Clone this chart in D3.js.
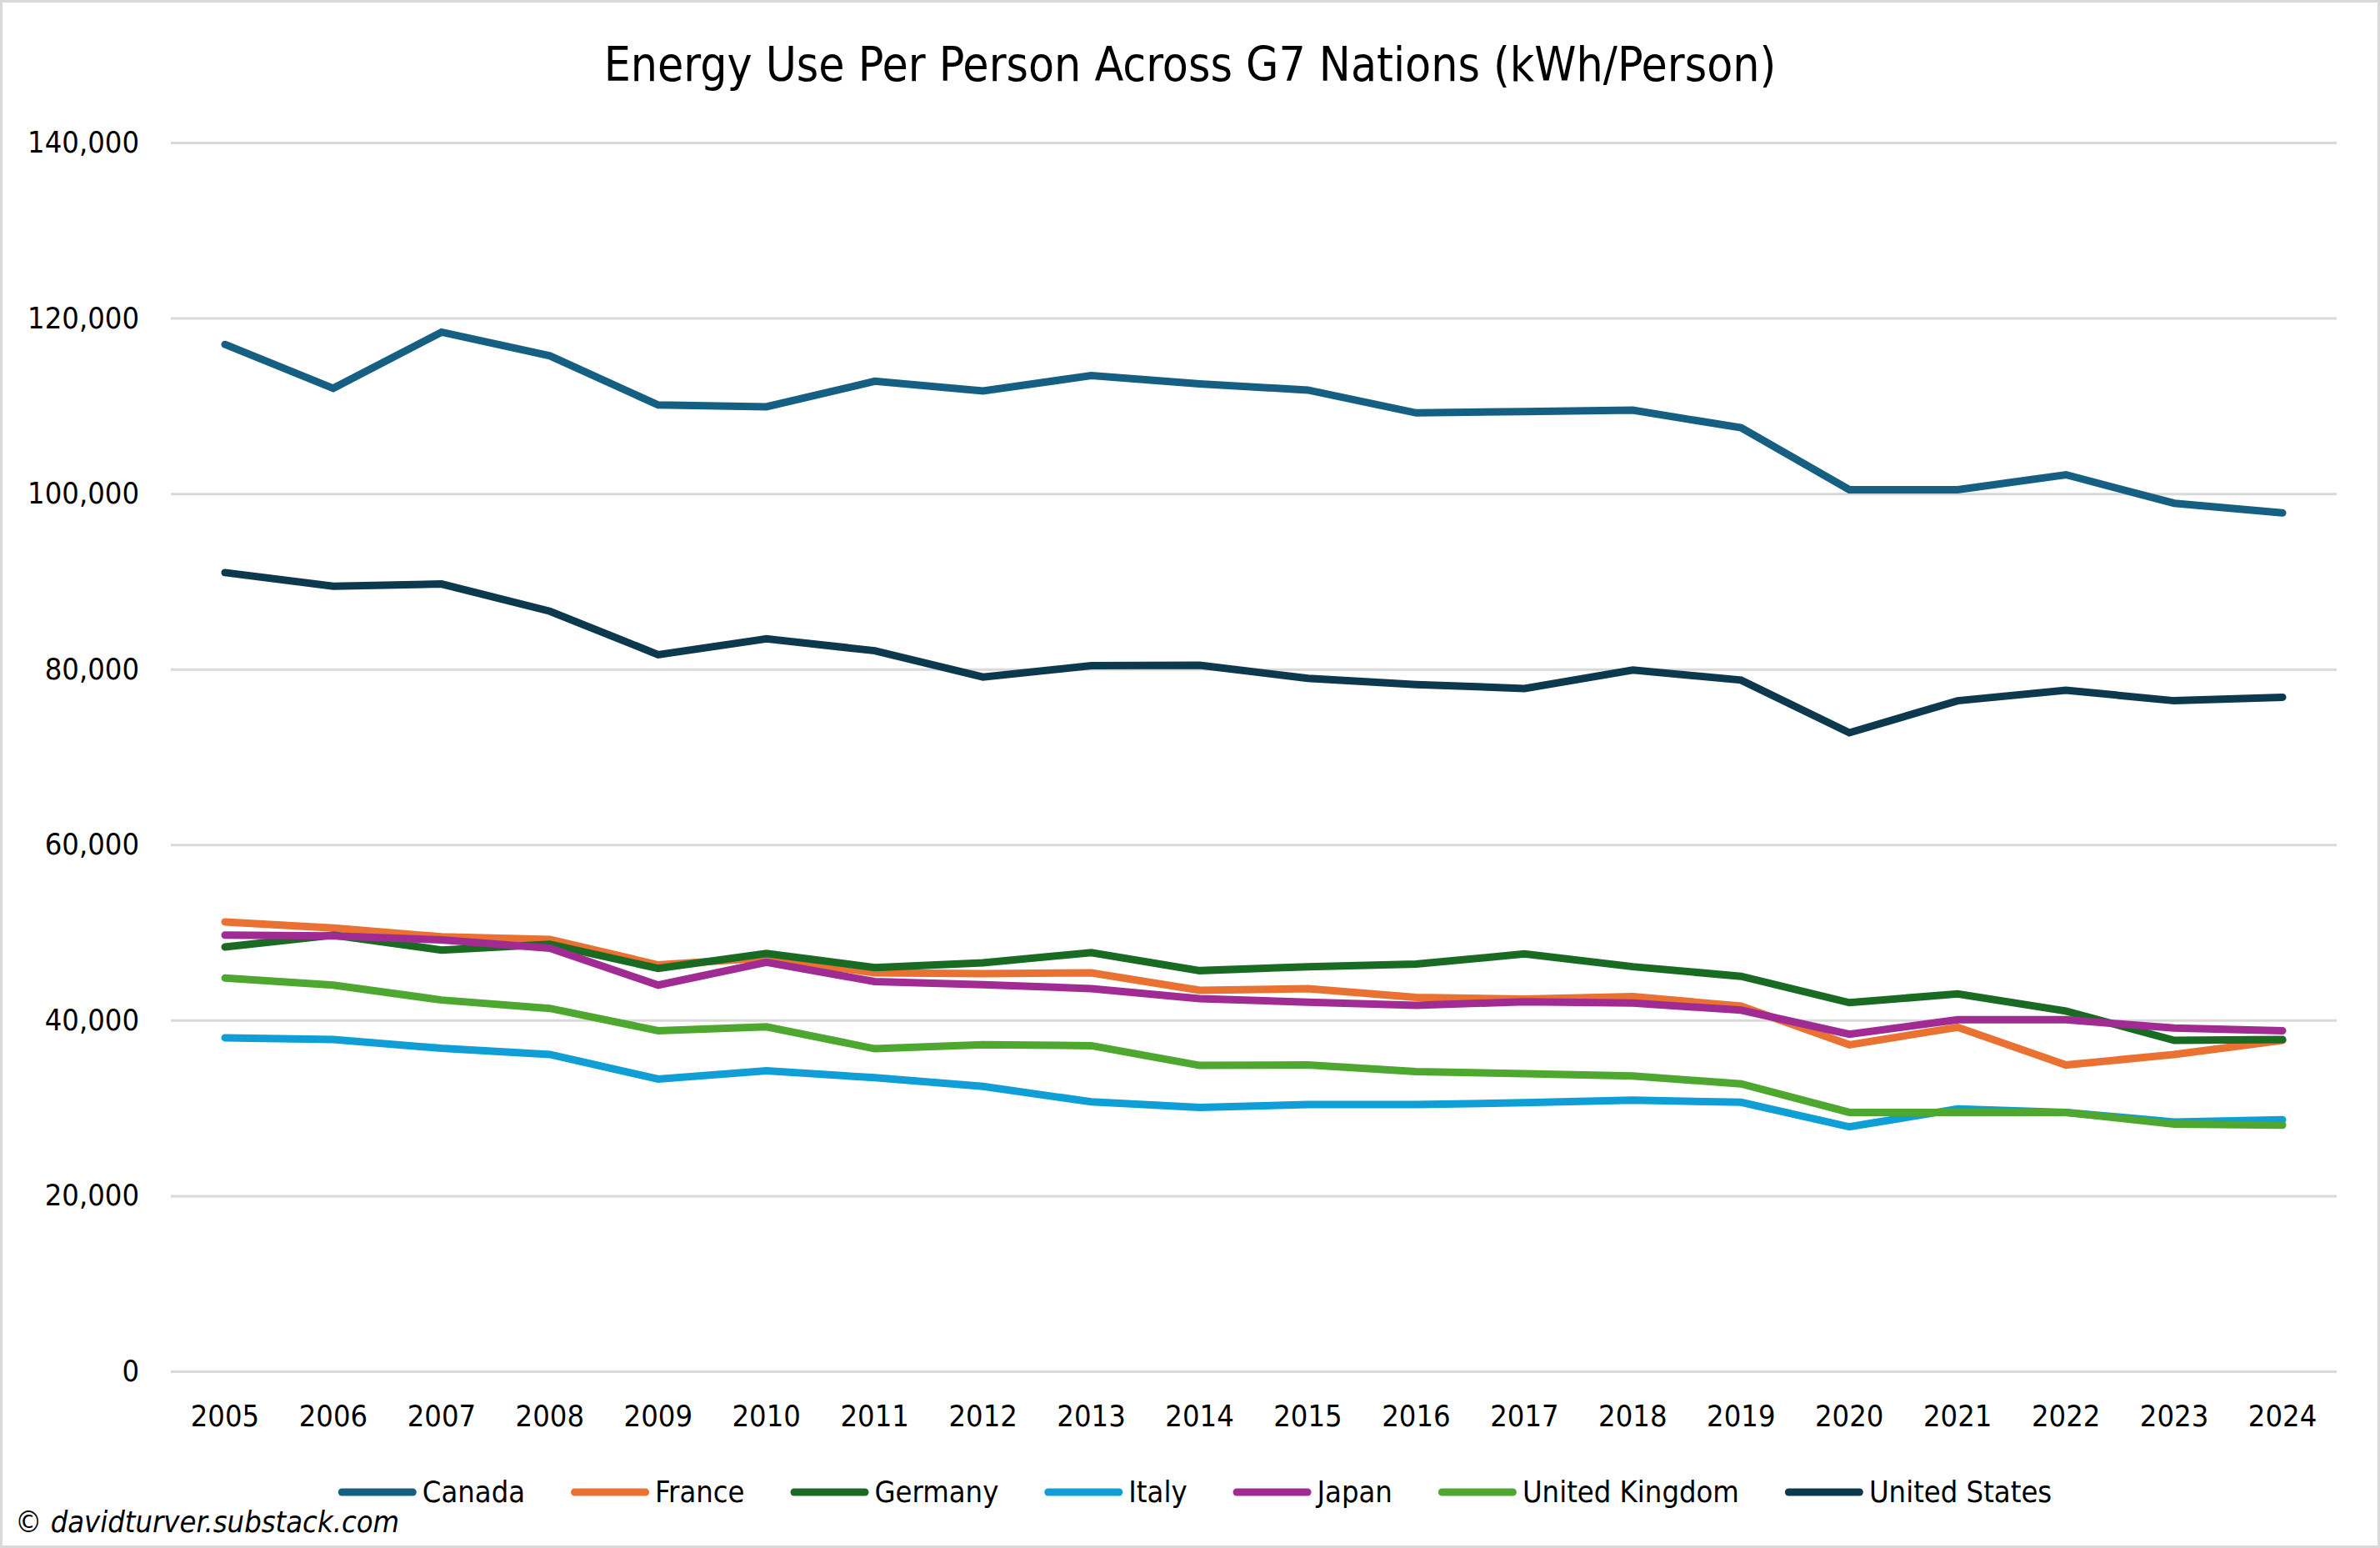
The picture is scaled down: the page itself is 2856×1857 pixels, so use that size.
<!DOCTYPE html>
<html>
<head>
<meta charset="utf-8">
<script src="https://cdn.jsdelivr.net/npm/d3@7"></script>
<style>
  html, body { margin: 0; padding: 0; background: #fff; }
  svg { display: block; }
  text { font-family: "Liberation Sans Narrow", "DejaVu Sans Condensed", "Arial Narrow", sans-serif; fill: #000; }
</style>
</head>
<body>
<svg id="chart" width="2856" height="1857"></svg>
<script>
const years = ["2005","2006","2007","2008","2009","2010","2011","2012","2013","2014","2015","2016","2017","2018","2019","2020","2021","2022","2023","2024"];
const yTicks = [0, 20000, 40000, 60000, 80000, 100000, 120000, 140000];

const canada  = [117000,112000,118400,115700,110100,109900,112800,111700,113450,112500,111800,109200,109350,109500,107500,100450,100450,102150,98900,97800];
const france  = [51200,50500,49500,49200,46300,47100,45400,45300,45400,43400,43600,42600,42400,42700,41600,37200,39200,34900,36100,37700];
const germany = [48350,49700,48000,48650,45900,47600,46000,46550,47700,45650,46100,46400,47550,46100,45000,42000,43000,41050,37700,37800];
const italy   = [38000,37800,36800,36100,33300,34250,33450,32450,30700,30050,30400,30400,30600,30900,30650,27850,29900,29500,28400,28650];
const japan   = [49700,49600,49150,48200,44000,46600,44400,44050,43600,42450,42050,41700,42100,41950,41150,38400,40050,40050,39100,38800];
const uk      = [44800,44000,42300,41350,38800,39250,36750,37200,37100,34850,34900,34150,33900,33650,32750,29500,29500,29500,28150,28050];
const us      = [91000,89450,89700,86600,81650,83450,82100,79100,80400,80450,78950,78250,77800,79900,78750,72750,76400,77600,76400,76800];

const seriesNames  = ["Canada","France","Germany","Italy","Japan","United Kingdom","United States"];
const seriesValues = [canada, france, germany, italy, japan, uk, us];
const seriesColors = ["#156082","#E97132","#196B24","#0F9ED5","#A02B93","#4EA72E","#0D394E"];

const title = "Energy Use Per Person Across G7 Nations (kWh/Person)";
const footer = "© davidturver.substack.com";

const W = 2856, H = 1857;
const plot = { left: 205, right: 2804, top: 171, bottom: 1645 };
const FONT = '"Liberation Sans Narrow", "DejaVu Sans Condensed", sans-serif';

const svg = d3.select("#chart");

// border
svg.append("rect")
  .attr("x", 1.5).attr("y", 1.5).attr("width", W - 3).attr("height", H - 3)
  .attr("fill", "#fff").attr("stroke", "#d9d9d9").attr("stroke-width", 3);

const x = d3.scaleBand().domain(years).range([plot.left, plot.right]).padding(0);
const y = d3.scaleLinear().domain([0, 140000]).range([plot.bottom, plot.top]);

// gridlines + y labels via axis
const yAxis = d3.axisLeft(y).tickValues(yTicks).tickFormat(d3.format(","))
  .tickSize(-(plot.right - plot.left)).tickPadding(38);
const gy = svg.append("g").attr("transform", `translate(${plot.left},0)`).call(yAxis);
gy.select(".domain").remove();
gy.selectAll(".tick line").attr("stroke", "#d9d9d9").attr("stroke-width", 3);
gy.selectAll(".tick text").attr("font-size", 36).attr("fill", "#000").style("font-family", FONT);

// x labels via axis
const xAxis = d3.axisBottom(x).tickSize(0).tickPadding(40);
const gx = svg.append("g").attr("transform", `translate(0,${plot.bottom})`).call(xAxis);
gx.select(".domain").remove();
gx.selectAll(".tick text").attr("font-size", 36).attr("fill", "#000").style("font-family", FONT);

// lines
const line = d3.line()
  .x((d, i) => x(years[i]) + x.bandwidth() / 2)
  .y(d => y(d));

seriesValues.forEach((vals, k) => {
  svg.append("path")
    .datum(vals)
    .attr("d", line)
    .attr("fill", "none")
    .attr("stroke", seriesColors[k])
    .attr("stroke-width", 9)
    .attr("stroke-linecap", "round")
    .attr("stroke-linejoin", "miter")
    .attr("stroke-miterlimit", 10);
});

// title
svg.append("text")
  .attr("x", W / 2).attr("y", 97)
  .attr("text-anchor", "middle")
  .attr("font-size", 56.5)
  .text(title);

// legend
const legendY = 1790;
const swatch = 94, swGap = 7, itemGap = 55;
const lg = svg.append("g");
let cx = 0;
seriesNames.forEach((name, k) => {
  const g = lg.append("g");
  g.append("line")
    .attr("x1", cx + 4.5).attr("x2", cx + swatch - 4.5)
    .attr("y1", legendY).attr("y2", legendY)
    .attr("stroke", seriesColors[k]).attr("stroke-width", 9).attr("stroke-linecap", "round");
  const t = g.append("text")
    .attr("x", cx + swatch + swGap).attr("y", legendY + 12)
    .attr("font-size", 36)
    .text(name);
  const w = t.node().getComputedTextLength();
  cx += swatch + swGap + w + itemGap;
});
const totalW = cx - itemGap;
lg.attr("transform", `translate(${1434 - totalW / 2},0)`);

// footer
svg.append("text")
  .attr("x", 18).attr("y", 1838)
  .attr("font-size", 36)
  .attr("font-style", "italic")
  .text(footer);
</script>
</body>
</html>
